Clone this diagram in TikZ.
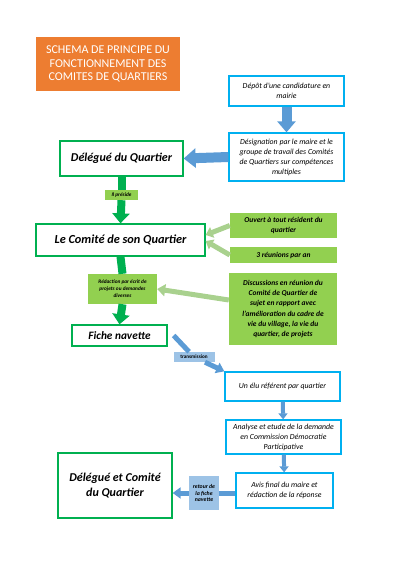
\documentclass[tikz,border=0pt]{standalone}
\usepackage{fontspec}
\setmainfont{Carlito}
\usetikzlibrary{arrows.meta}
\definecolor{orangetitre}{HTML}{ED7D31}
\definecolor{cyanbord}{HTML}{00B0F0}
\definecolor{bleufleche}{HTML}{5B9BD5}
\definecolor{vertbord}{HTML}{00B050}
\definecolor{vertfond}{HTML}{92D050}
\definecolor{vertclair}{HTML}{A9D18E}
\definecolor{bleuclair}{HTML}{9DC3E6}

\begin{document}
\begin{tikzpicture}[x=1pt, y=-1pt]
    \tikzstyle{titre} = [shape=rectangle, fill=orangetitre, text=white, align=center, minimum width=144pt, minimum height=54pt, font=\fontsize{12}{13.7}\selectfont]
    \tikzstyle{mairie} = [shape=rectangle, draw=cyanbord, fill=white, line width=1.3pt, align=center, inner sep=1pt, font=\fontsize{7.8}{10}\selectfont\itshape]
    \tikzstyle{quartier} = [shape=rectangle, draw=vertbord, fill=white, line width=1.3pt, align=center, font=\fontsize{12}{15}\selectfont\bfseries\itshape]
    \tikzstyle{info} = [shape=rectangle, fill=vertfond, align=center, inner sep=1pt, font=\fontsize{7.5}{10.2}\selectfont\bfseries\itshape]
    \tikzstyle{etiq} = [shape=rectangle, fill=vertfond, align=center, inner sep=1pt, font=\fontsize{5.3}{7}\selectfont\bfseries\itshape]
    \tikzstyle{etiqbleu} = [shape=rectangle, fill=bleuclair, align=center, inner sep=1pt, font=\fontsize{5.8}{6.5}\selectfont\bfseries\itshape]
    \tikzstyle{grosse} = [draw=bleufleche, line width=10pt, -{Triangle[length=12pt, width=19pt]}]
    \tikzstyle{verte} = [draw=vertbord, line width=8pt]
    \tikzstyle{fine} = [draw=vertclair, line width=5pt, -{Triangle[length=7pt, width=11pt]}]
    \tikzstyle{bleue} = [draw=bleufleche, line width=5pt]
    \tikzstyle{petite} = [draw=bleufleche, line width=4pt, -{Triangle[length=6pt, width=9pt]}]

    \useasboundingbox (0, 0) rectangle (400, 566);

    % 节点
    \path   (108, 64) node [titre, name=titre] {SCHEMA DE PRINCIPE DU\\FONCTIONNEMENT DES\\COMITES DE QUARTIERS}
            (286.5, 91) node [mairie, name=depot, minimum width=115pt, minimum height=30pt] {Dépôt d'une candidature en\\mairie}
            (286.5, 157) node [mairie, name=designation, minimum width=115pt, minimum height=48pt] {Désignation par le maire et le\\groupe de travail des Comités\\de Quartiers sur compétences\\multiples}
            (121.5, 158.5) node [quartier, name=delegue, minimum width=123pt, minimum height=35pt] {Délégué du Quartier}
            (121.5, 195) node [etiq, name=preside, minimum width=33pt, minimum height=10pt] {Il préside}
            (120.5, 240) node [quartier, name=comite, minimum width=169pt, minimum height=32pt, font=\fontsize{12.3}{15}\selectfont\bfseries\itshape] {Le Comité de son Quartier}
            (283.5, 225.5) node [info, name=ouvert, minimum width=107pt, minimum height=25pt] {Ouvert à tout résident du\\quartier}
            (283.5, 255) node [info, name=reunions, minimum width=107pt, minimum height=16pt] {3 réunions par an}
            (122.5, 289) node [etiq, name=redaction, minimum width=69pt, minimum height=30pt] {Rédaction par écrit de\\projets ou demandes\\diverses}
            (283, 309) node [info, name=discussions, minimum width=108pt, minimum height=72pt] {Discussions en réunion du\\Comité de Quartier de\\sujet en rapport avec\\l'amélioration du cadre de\\vie du village, la vie du\\quartier, de projets}
            (119.5, 335.5) node [quartier, name=fiche, minimum width=95pt, minimum height=21pt, font=\fontsize{11.3}{14}\selectfont\bfseries\itshape] {Fiche navette}
            (194, 357) node [etiqbleu, name=transmission, minimum width=41pt, minimum height=10pt, font=\fontsize{5.2}{6}\selectfont\bfseries] {transmission}
            (282.5, 386.5) node [mairie, name=elu, minimum width=115pt, minimum height=29pt] {Un élu référent par quartier}
            (283.5, 437) node [mairie, name=analyse, minimum width=115pt, minimum height=34pt] {Analyse et etude de la demande\\en Commission Démocratie\\Participative}
            (284.5, 490.5) node [mairie, name=avis, minimum width=97pt, minimum height=35pt] {Avis final du maire et\\rédaction de la réponse}
            (204, 493) node [etiqbleu, name=retour, minimum width=30pt, minimum height=34pt] {retour de\\la fiche\\navette}
            (115, 485.5) node [quartier, name=delcom, minimum width=114pt, minimum height=65pt] {Délégué et Comité\\du Quartier};

    % 箭头
    \draw [grosse, -{Triangle[length=11pt, width=18pt]}] (depot.south) -- (designation.north);
    \draw [grosse] (designation.west) -- (delegue.east);
    \draw [verte] (delegue.south) -- (preside.north);
    \draw [verte, -{Triangle[length=10pt, width=17pt]}] (preside.south) -- (comite.north);
    \draw [fine] (ouvert.west) -- ([yshift=5pt]comite.east);
    \draw [fine] (reunions.west) -- ([yshift=-1pt]comite.east);
    \draw [verte] (comite.south) -- (redaction.north);
    \draw [verte, -{Triangle[length=10pt, width=17pt]}] (redaction.south) -- (fiche.north);
    \draw [fine, -{Triangle[length=8pt, width=12pt]}] ([yshift=9pt]discussions.west) -- (redaction.east);
    \draw [bleue, -{Triangle[length=8pt, width=11pt]}] ([xshift=6pt]fiche.east) -- (transmission) -- (elu.north west);
    \draw [petite] (elu) -- (analyse);
    \draw [petite] (analyse) -- (avis);
    \draw [bleue, -{Triangle[length=8pt, width=11pt]}] (avis.west |- retour) -- (retour) -- (delcom.east |- retour);
\end{tikzpicture}
\end{document}
